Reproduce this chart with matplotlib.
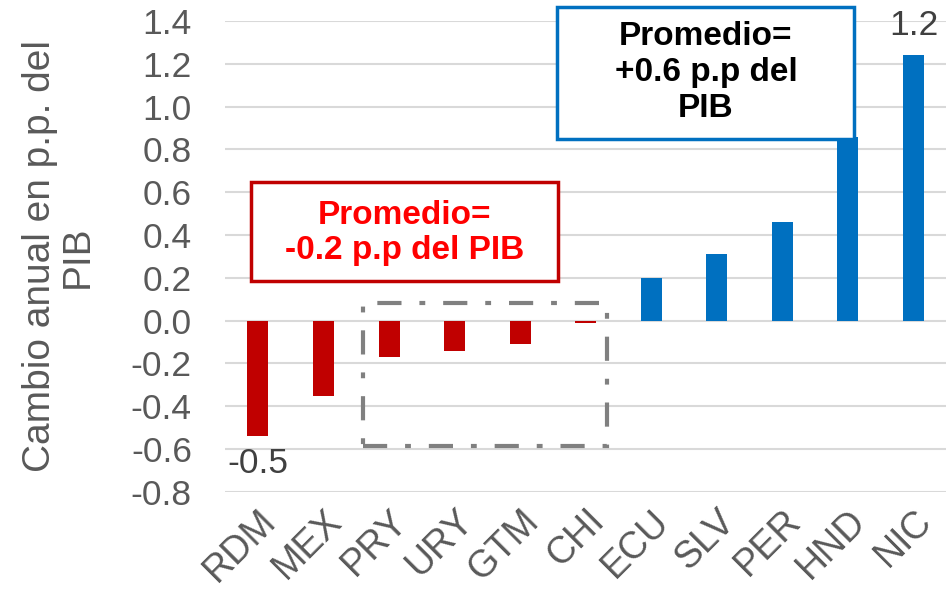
import matplotlib.pyplot as plt
from matplotlib.patches import Rectangle

plt.rcParams['font.family'] = ['Liberation Sans', 'DejaVu Sans']
plt.rcParams['axes.unicode_minus'] = False

paises = ['RDM', 'MEX', 'PRY', 'URY', 'GTM', 'CHI', 'ECU', 'SLV', 'PER', 'HND', 'NIC']
cambio = [-0.54, -0.35, -0.17, -0.14, -0.11, -0.01, 0.20, 0.31, 0.46, 0.86, 1.24]
yticks = [-0.8, -0.6, -0.4, -0.2, 0.0, 0.2, 0.4, 0.6, 0.8, 1.0, 1.2, 1.4]

rojo = '#C00000'
azul = '#0070C0'
gris = '#595959'

fig = plt.figure(figsize=(9.5, 6.02), dpi=100)
ax = fig.add_axes([0.237, 0.183, 0.759, 0.782])

colores = [rojo if v < 0 else azul for v in cambio]
x = range(len(paises))
ax.bar(x, cambio, width=0.32, color=colores, zorder=3)

ax.set_xlim(-0.5, len(paises) - 0.5)
ax.set_ylim(-0.8, 1.4)
ax.set_yticks(yticks)
ax.set_yticklabels([f'{v:.1f}' for v in yticks])
ax.set_xticks(list(x))
ax.set_xticklabels(paises, rotation=45, ha='right', rotation_mode='anchor')
ax.tick_params(length=0, labelcolor=gris)
ax.tick_params(axis='y', pad=24, labelsize=25.5)
ax.tick_params(axis='x', pad=8, labelsize=27)
ax.grid(axis='y', color='#D9D9D9', linewidth=1.5, zorder=0)
for s in ax.spines.values():
    s.set_visible(False)
ax.set_ylabel('Cambio anual en p.p. del\nPIB', fontsize=28, color=gris, linespacing=1.05)
ax.yaxis.set_label_coords(-0.18, 0.5)

# etiquetas de extremos
ax.text(0, cambio[0] - 0.05, f'{cambio[0]:.1f}', ha='center', va='top',
        fontsize=25.5, color='#404040')
ax.text(10, cambio[10] + 0.06, f'{cambio[10]:.1f}', ha='center', va='bottom',
        fontsize=25.5, color='#404040')

# recuadro gris punteado
ax.add_patch(Rectangle((1.61, -0.585), 3.72, 0.668, fill=False,
                       edgecolor='#808080', linewidth=3,
                       linestyle=(0, (5.8, 4.3, 1.4, 4.3)), zorder=4))

# recuadro rojo
ax.add_patch(Rectangle((-0.11, 0.185), 4.69, 0.462, fill=True, facecolor='white',
                       edgecolor=rojo, linewidth=2.5, zorder=4))
ax.text(2.235, 0.41, 'Promedio=\n-0.2 p.p del PIB', ha='center', va='center',
        fontsize=24, fontweight='bold', color='#FF0000', linespacing=1.2, zorder=5)

# recuadro azul
ax.add_patch(Rectangle((4.57, 0.848), 4.53, 0.616, fill=True, facecolor='white',
                       edgecolor=azul, linewidth=2.5, zorder=4, clip_on=False))
ax.text(6.835, 1.16, 'Promedio=\n+0.6 p.p del\nPIB', ha='center', va='center',
        fontsize=24, fontweight='bold', color='black', linespacing=1.2, zorder=5)

fig.savefig('out.png', dpi=100)
